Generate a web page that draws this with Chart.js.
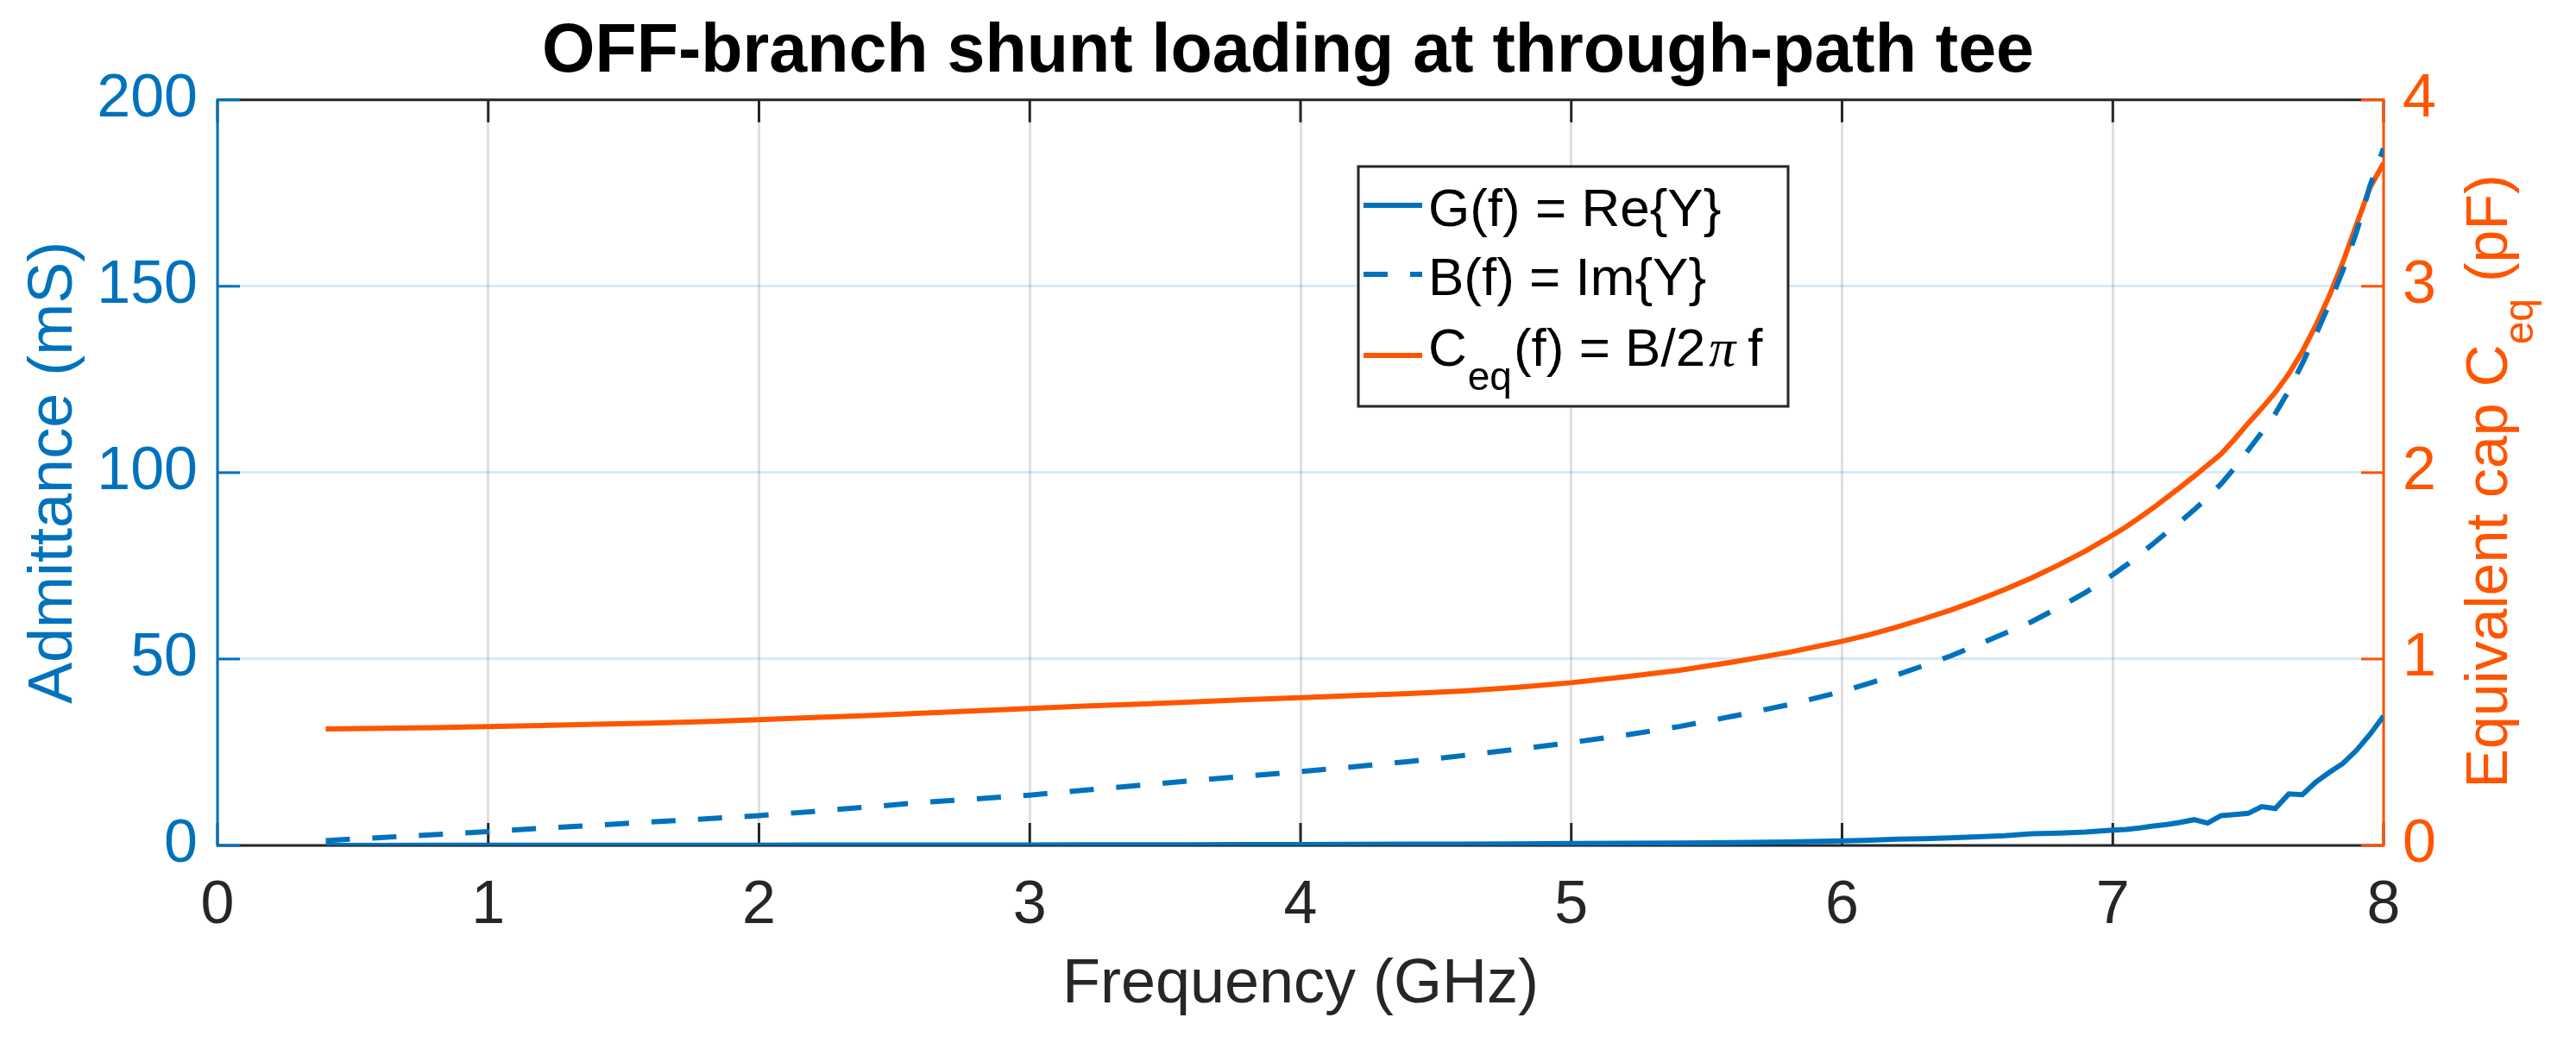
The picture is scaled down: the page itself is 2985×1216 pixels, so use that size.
<!DOCTYPE html>
<html><head><meta charset="utf-8">
<script src="https://cdn.jsdelivr.net/npm/chart.js@4.4.1/dist/chart.umd.min.js"></script>
<style>html,body{margin:0;padding:0;background:#fff;}canvas{display:block;}</style>
</head><body>
<canvas id="c" width="2985" height="1216"></canvas>
<script>
// ---- data ----
const freq = [0.4,0.6,0.8,1.0,1.2,1.4,1.6,1.8,2.0,2.2,2.4,2.6,2.8,3.0,3.2,3.4,3.6,3.8,4.0,4.2,4.4,4.6,4.8,5.0,5.2,5.4,5.6,5.8,6.0,
  6.1,6.2,6.3,6.4,6.5,6.6,6.7,6.8,6.9,7.0,
  7.05,7.1,7.15,7.2,7.25,7.3,7.35,7.4,7.45,7.5,7.55,7.6,7.65,7.7,7.75,7.8,7.85,7.9,7.95,8.0];
const G_mS = [0.02,0.02,0.03,0.03,0.04,0.05,0.06,0.07,0.08,0.09,0.10,0.11,0.12,0.13,0.15,0.17,0.19,0.22,0.25,0.28,0.32,0.37,0.43,0.5,0.58,0.66,0.76,0.95,1.2,
  1.4,1.7,1.8,2.0,2.3,2.6,3.1,3.3,3.6,4.1,
  4.3,4.7,5.2,5.6,6.2,6.9,6.0,8.0,8.3,8.6,10.4,9.9,13.8,13.6,17.0,19.6,22.0,25.5,29.8,34.7];
const B_mS = [1.3,2.1,2.9,3.7,4.6,5.4,6.3,7.1,8.0,9.1,10.3,11.5,12.5,13.5,14.8,16.1,17.4,18.6,19.8,21.1,22.5,24.1,25.8,27.6,29.6,31.9,34.7,37.7,41.3,
  43.5,45.7,48.2,50.8,53.8,56.9,60.0,63.8,67.9,72.6,
  75.2,78.0,81.0,84.0,86.9,90.0,93.3,97.0,101.3,106.0,110.8,115.8,122.0,129.3,137.0,145.3,154.3,164.5,177.0,187.0];
const Ceq_pF = [0.625,0.628,0.632,0.638,0.643,0.650,0.656,0.664,0.675,0.686,0.697,0.709,0.722,0.735,0.747,0.758,0.770,0.782,0.793,0.804,0.815,0.829,0.848,0.873,0.905,0.940,0.985,1.035,1.095,
  1.13,1.17,1.215,1.262,1.315,1.372,1.435,1.505,1.58,1.665,
  1.71,1.76,1.812,1.867,1.923,1.98,2.04,2.10,2.18,2.265,2.345,2.43,2.53,2.65,2.79,2.95,3.13,3.33,3.53,3.66];
const xTicks = [0,1,2,3,4,5,6,7,8];
const yLeftTicks = [0,50,100,150,200];
const yRightTicks = [0,1,2,3,4];
const titleText = 'OFF-branch shunt loading at through-path tee';
const xTitle = 'Frequency (GHz)';
const yLeftTitle = 'Admittance (mS)';

// ---- styles ----
const BLUE = '#0072BD';
const ORANGE = '#FF5500';
const DARK = '#262626';
const FONT = 'Liberation Sans';
const TL = 26;
const DASH = [28, 26];
const LW = 6;

const pts = (ys) => freq.map((f, i) => ({x: f, y: ys[i]}));

const framePlugin = {
  id: 'frame',
  beforeDatasetsDraw(chart) {
    const {ctx, chartArea: a, scales} = chart;
    const seg = (x1, y1, x2, y2) => { ctx.beginPath(); ctx.moveTo(x1, y1); ctx.lineTo(x2, y2); ctx.stroke(); };
    ctx.save();
    ctx.lineWidth = 3; ctx.lineCap = 'butt';
    ctx.strokeStyle = DARK;
    scales.x.ticks.forEach(t => {
      const px = scales.x.getPixelForValue(t.value);
      seg(px, a.bottom, px, a.bottom - TL);
      seg(px, a.top, px, a.top + TL);
    });
    seg(a.left, a.top, a.right, a.top);
    seg(a.left, a.bottom, a.right, a.bottom);
    ctx.strokeStyle = BLUE; seg(a.left, a.top - 1.5, a.left, a.bottom + 1.5);
    ctx.strokeStyle = ORANGE; seg(a.right, a.top - 1.5, a.right, a.bottom + 1.5);
    ctx.strokeStyle = BLUE;
    scales.y.ticks.forEach(t => { const py = scales.y.getPixelForValue(t.value); seg(a.left, py, a.left + TL, py); });
    ctx.strokeStyle = ORANGE;
    scales.y1.ticks.forEach(t => { const py = scales.y1.getPixelForValue(t.value); seg(a.right, py, a.right - TL, py); });
    ctx.restore();
  }
};

const legendPlugin = {
  id: 'legendBox',
  afterDatasetsDraw(chart) {
    const ctx = chart.ctx;
    const L = 1574, T = 193, R = 2072, Bt = 471;
    ctx.save();
    ctx.fillStyle = '#fff'; ctx.fillRect(L, T, R - L, Bt - T);
    ctx.strokeStyle = DARK; ctx.lineWidth = 3; ctx.strokeRect(L, T, R - L, Bt - T);
    const sw = (y, color, dash) => {
      ctx.save(); ctx.strokeStyle = color; ctx.lineWidth = LW; ctx.setLineDash(dash);
      ctx.beginPath(); ctx.moveTo(1580, y); ctx.lineTo(1648, y); ctx.stroke(); ctx.restore();
    };
    sw(238, BLUE, []); sw(318, BLUE, DASH); sw(412, ORANGE, []);
    ctx.fillStyle = '#000'; ctx.textBaseline = 'alphabetic'; ctx.textAlign = 'left';
    const main = '62px "' + FONT + '"';
    ctx.font = main;
    ctx.fillText('G(f) = Re{Y}', 1655, 262);
    ctx.fillText('B(f) = Im{Y}', 1655, 342);
    let x = 1655; const by = 424;
    ctx.fillText('C', x, by); x += ctx.measureText('C').width + 1;
    ctx.font = '46px "' + FONT + '"';
    ctx.fillText('eq', x, by + 28); x += ctx.measureText('eq').width + 2;
    ctx.font = main;
    ctx.fillText('(f) = B/2', x, by); x += ctx.measureText('(f) = B/2').width + 4;
    ctx.font = 'italic 62px "Liberation Serif"';
    ctx.fillText('\u03C0', x, by); x += ctx.measureText('\u03C0').width + 14;
    ctx.font = main;
    ctx.fillText('f', x, by);
    ctx.restore();
  }
};

const rightTitlePlugin = {
  id: 'rightTitle',
  afterDraw(chart) {
    const {ctx, chartArea: a} = chart;
    const big = '68px "' + FONT + '"', small = '48px "' + FONT + '"';
    const p1 = 'Equivalent cap C', p2 = 'eq', p3 = ' (pF)';
    ctx.save();
    ctx.font = big; const w1 = ctx.measureText(p1).width, w3 = ctx.measureText(p3).width;
    ctx.font = small; const w2 = ctx.measureText(p2).width;
    const total = w1 + w2 + w3;
    ctx.translate(2905, (a.top + a.bottom) / 2 + 10);
    ctx.rotate(-Math.PI / 2);
    ctx.fillStyle = ORANGE; ctx.textAlign = 'left'; ctx.textBaseline = 'alphabetic';
    let x = -total / 2;
    ctx.font = big; ctx.fillText(p1, x, 0); x += w1;
    ctx.font = small; ctx.fillText(p2, x, 30); x += w2;
    ctx.font = big; ctx.fillText(p3, x, 0);
    ctx.restore();
  }
};

Chart.defaults.font.family = FONT;

new Chart(document.getElementById('c'), {
  type: 'line',
  data: {
    datasets: [
      {label: 'G(f) = Re{Y}', data: pts(G_mS), yAxisID: 'y', borderColor: BLUE, borderWidth: LW, pointRadius: 0, tension: 0, fill: false},
      {label: 'B(f) = Im{Y}', data: pts(B_mS), yAxisID: 'y', borderColor: BLUE, borderWidth: LW, borderDash: DASH, pointRadius: 0, tension: 0, fill: false},
      {label: 'Ceq(f) = B/2\u03C0 f', data: pts(Ceq_pF), yAxisID: 'y1', borderColor: ORANGE, borderWidth: LW, pointRadius: 0, tension: 0, fill: false}
    ]
  },
  options: {
    responsive: false,
    animation: false,
    devicePixelRatio: 1,
    layout: {padding: 0},
    plugins: {
      legend: {display: false},
      tooltip: {enabled: false},
      title: {display: true, text: titleText, color: '#000',
        font: {family: FONT, size: 79, weight: 'bold'}, padding: {top: 14, bottom: 7}}
    },
    scales: {
      x: {
        type: 'linear', min: 0, max: 8,
        afterBuildTicks: s => { s.ticks = xTicks.map(v => ({value: v})); },
        afterFit: s => { s.height = 236; },
        grid: {color: 'rgba(38,38,38,0.15)', lineWidth: 3, drawTicks: false},
        border: {display: false},
        ticks: {color: DARK, font: {size: 70}, padding: 29, maxRotation: 0, autoSkip: false},
        title: {display: true, text: xTitle, color: DARK, font: {size: 72}, padding: {top: 0, bottom: 31}}
      },
      y: {
        type: 'linear', position: 'left', min: 0, max: 200,
        afterBuildTicks: s => { s.ticks = yLeftTicks.map(v => ({value: v})); },
        afterFit: s => { s.width = 252; },
        grid: {color: 'rgba(0,114,189,0.15)', lineWidth: 3, drawTicks: false},
        border: {display: false},
        ticks: {color: BLUE, font: {size: 70}, padding: 23, autoSkip: false},
        title: {display: true, text: yLeftTitle, color: BLUE, font: {size: 72}, padding: {top: 20, bottom: 0}}
      },
      y1: {
        type: 'linear', position: 'right', min: 0, max: 4,
        afterBuildTicks: s => { s.ticks = yRightTicks.map(v => ({value: v})); },
        afterFit: s => { s.width = 223; },
        grid: {display: false, drawTicks: false},
        border: {display: false},
        ticks: {color: ORANGE, font: {size: 70}, padding: 22, autoSkip: false}
      }
    }
  },
  plugins: [framePlugin, legendPlugin, rightTitlePlugin]
});
</script>
</body></html>
